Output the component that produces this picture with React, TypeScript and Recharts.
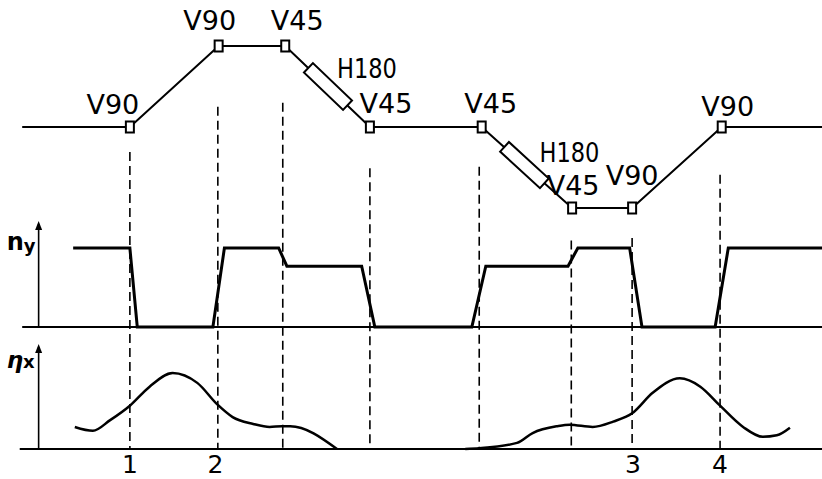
import React from 'react';
import { ComposedChart, Line, Scatter, XAxis, YAxis, ReferenceLine } from 'recharts';

const W = 822;
const H = 479;

// --- top panel: beam line elevation ---
const beamS = [2.7, 15.8, 26.6, 34.7, 45.0, 58.6, 69.6, 76.9, 87.8, 100];
const beamElev = [0, 0, 1, 1, 0, 0, -1, -1, 0, 0];

const magnetNames = ['V90', 'V90', 'V45', 'V45', 'V45', 'V45', 'V90', 'V90'];
const magnetS = [15.8, 26.6, 34.7, 45.0, 58.6, 69.6, 76.9, 87.8];
const magnetElev = [0, 1, 1, 0, 0, -1, -1, 0];

const solenoidNames = ['H180', 'H180'];
const solenoidS = [39.9, 63.8];
const solenoidElev = [0.5, -0.47];

// --- middle panel: vertical dispersion ---
const nyS = [8.9, 15.8, 16.7, 25.9, 27.3, 33.9, 34.9, 44.0, 45.6, 57.4, 59.1, 69.1, 70.3, 76.6, 78.1, 87.0, 88.6, 100];
const nyV = [1, 1, 0, 0, 1, 1, 0.77, 0.77, 0, 0, 0.77, 0.77, 1, 1, 0, 0, 1, 1];

// --- bottom panel: horizontal dispersion ---
const nxLeftS = [9.1, 11.3, 13.4, 15.8, 18.2, 21.0, 24.0, 26.5, 28.3, 30.8, 32.8, 34.3, 35.3, 41.0];
const nxLeftV = [0.29, 0.24, 0.38, 0.57, 0.82, 1.0, 0.87, 0.58, 0.42, 0.33, 0.29, 0.3, 0.3, 0];
const nxRightS = [56.6, 58.3, 62.9, 64.8, 67.8, 69.3, 72.1, 74.6, 76.9, 79.4, 82.7, 85.2, 87.6, 90.4, 92.8, 94.5, 96.1];
const nxRightV = [0, 0.01, 0.08, 0.21, 0.3, 0.32, 0.29, 0.36, 0.47, 0.74, 0.93, 0.82, 0.57, 0.29, 0.16, 0.18, 0.28];

// dashed marker lines (start given in beam-line elevation units)
const cutS = [15.8, 26.5, 34.4, 45.0, 58.3, 69.5, 76.9, 87.6];
const cutTop = [-0.31, 0.25, 0.3, -0.51, -0.49, -1.4, -1.37, -0.59];

const stationNames = ['1', '2', '3', '4'];
const stationS = [15.8, 26.2, 77.0, 87.6];

// layout: pixel baseline + pixels per unit of each panel
const PANELS = {
  geo: { base: 127, unit: 81 },
  ny: { base: 327, unit: 79 },
  nx: { base: 449, unit: 76 },
};
const domainOf = (p: { base: number; unit: number }) => [(p.base - H) / p.unit, p.base / p.unit];
const geoFromPx = (px: number) => (PANELS.geo.base - px) / PANELS.geo.unit;
const cutBottom = geoFromPx(PANELS.nx.base);

const magnetLabelDx = [-17, -9, 12, 16, 9, 1, 0, 6];
const magnetLabelDy = [-23, -26, -26, -24, -24, -23, -33, -21];
const solenoidLabelDx = [39, 45];
const solenoidLabelDy = [-19, -13];
const solenoidAngle = [43.6, 42.5];

const zip = (s: number[], v: number[]) => s.map((x, i) => ({ s: x, v: v[i] }));

const beamData = zip(beamS, beamElev);
const magnetData = magnetS.map((s, i) => ({ s, v: magnetElev[i], name: magnetNames[i], dx: magnetLabelDx[i], dy: magnetLabelDy[i] }));
const solenoidData = solenoidS.map((s, i) => ({ s, v: solenoidElev[i], name: solenoidNames[i], dx: solenoidLabelDx[i], dy: solenoidLabelDy[i], angle: solenoidAngle[i] }));
const nyData = zip(nyS, nyV);
const nxLeftData = zip(nxLeftS, nxLeftV);
const nxRightData = zip(nxRightS, nxRightV);
const stationData = stationS.map((s, i) => ({ s, v: -0.2, name: stationNames[i] }));

const AXIS_S = 4.7;
const nyArrow = [{ s: AXIS_S, v: 1.33, main: 'n', sub: 'y', italic: false, size: 24, lift: 28 }];
const nxArrow = [{ s: AXIS_S, v: 1.37, main: 'η', sub: 'x', italic: true, size: 23, lift: 23 }];

const FONT = 'DejaVu Sans, sans-serif';

const MagnetShape = ({ cx, cy, payload }: any) => (
  <g>
    <rect x={cx - 4} y={cy - 5.5} width={8} height={11} fill="#fff" stroke="#000" strokeWidth={2} />
    <text x={cx + payload.dx} y={cy + payload.dy + 10} textAnchor="middle" fontSize={27} fontFamily={FONT} fill="#000">
      {payload.name}
    </text>
  </g>
);

const SolenoidShape = ({ cx, cy, payload }: any) => (
  <g>
    <g transform={`translate(${cx},${cy}) rotate(${payload.angle})`}>
      <rect x={-27} y={-6.5} width={54} height={13} fill="#fff" stroke="#000" strokeWidth={2} />
    </g>
    <text x={cx + payload.dx} y={cy + payload.dy + 10} textAnchor="middle" fontSize={27} fontFamily={FONT} fill="#000" textLength={60} lengthAdjust="spacingAndGlyphs">
      {payload.name}
    </text>
  </g>
);

const ArrowShape = ({ cx, cy, payload }: any) => (
  <g>
    <polygon points={`${cx},${cy - 1} ${cx - 3.5},${cy + 8} ${cx + 3.5},${cy + 8}`} fill="#000" />
    <text x={cx - 32} y={cy + payload.lift} fontFamily={FONT} fill="#000" fontWeight="bold">
      <tspan fontSize={payload.size} fontStyle={payload.italic ? 'italic' : 'normal'}>{payload.main}</tspan>
      <tspan fontSize={18} dy={payload.italic ? 0 : 2}>{payload.sub}</tspan>
    </text>
  </g>
);

const StationShape = ({ cx, cy, payload }: any) => (
  <text x={cx} y={cy + 9} textAnchor="middle" fontSize={25} fontFamily={FONT} fill="#000">
    {payload.name}
  </text>
);

export default function App() {
  return (
    <div style={{ position: 'absolute', left: 0, top: 0, width: W, height: H, background: '#fff' }}>
      <ComposedChart width={W} height={H} margin={{ top: 0, right: 0, bottom: 0, left: 0 }} style={{ fontFamily: FONT }}>
        <XAxis type="number" dataKey="s" domain={[0, 100]} allowDataOverflow hide />
        <YAxis yAxisId="geo" type="number" dataKey="v" domain={domainOf(PANELS.geo)} allowDataOverflow hide />
        <YAxis yAxisId="ny" type="number" dataKey="v" domain={domainOf(PANELS.ny)} allowDataOverflow hide />
        <YAxis yAxisId="nx" type="number" dataKey="v" domain={domainOf(PANELS.nx)} allowDataOverflow hide />

        {cutS.map((s, i) => (
          <ReferenceLine
            key={`cut-${i}`}
            yAxisId="geo"
            segment={[{ x: s, y: cutTop[i] }, { x: s, y: cutBottom }]}
            stroke="#000"
            strokeWidth={1.6}
            strokeDasharray="9 5"
          />
        ))}

        {/* panel baselines and axis shafts */}
        <ReferenceLine yAxisId="ny" segment={[{ x: 2.7, y: 0 }, { x: 100, y: 0 }]} stroke="#000" strokeWidth={2} />
        <ReferenceLine yAxisId="nx" segment={[{ x: 2.4, y: 0 }, { x: 100, y: 0 }]} stroke="#000" strokeWidth={2} />
        <ReferenceLine yAxisId="ny" segment={[{ x: AXIS_S, y: 0 }, { x: AXIS_S, y: 1.3 }]} stroke="#000" strokeWidth={1.6} />
        <ReferenceLine yAxisId="nx" segment={[{ x: AXIS_S, y: 0 }, { x: AXIS_S, y: 1.34 }]} stroke="#000" strokeWidth={1.6} />

        <Line yAxisId="geo" data={beamData} dataKey="v" type="linear" stroke="#000" strokeWidth={2} dot={false} activeDot={false} isAnimationActive={false} />
        <Line yAxisId="ny" data={nyData} dataKey="v" type="linear" stroke="#000" strokeWidth={3} dot={false} activeDot={false} isAnimationActive={false} />
        <Line yAxisId="nx" data={nxLeftData} dataKey="v" type="monotone" stroke="#000" strokeWidth={2.5} dot={false} activeDot={false} isAnimationActive={false} />
        <Line yAxisId="nx" data={nxRightData} dataKey="v" type="monotone" stroke="#000" strokeWidth={2.5} dot={false} activeDot={false} isAnimationActive={false} />

        <Scatter yAxisId="geo" data={solenoidData} dataKey="v" shape={SolenoidShape} isAnimationActive={false} />
        <Scatter yAxisId="geo" data={magnetData} dataKey="v" shape={MagnetShape} isAnimationActive={false} />
        <Scatter yAxisId="ny" data={nyArrow} dataKey="v" shape={ArrowShape} isAnimationActive={false} />
        <Scatter yAxisId="nx" data={nxArrow} dataKey="v" shape={ArrowShape} isAnimationActive={false} />
        <Scatter yAxisId="nx" data={stationData} dataKey="v" shape={StationShape} isAnimationActive={false} />
      </ComposedChart>
    </div>
  );
}
